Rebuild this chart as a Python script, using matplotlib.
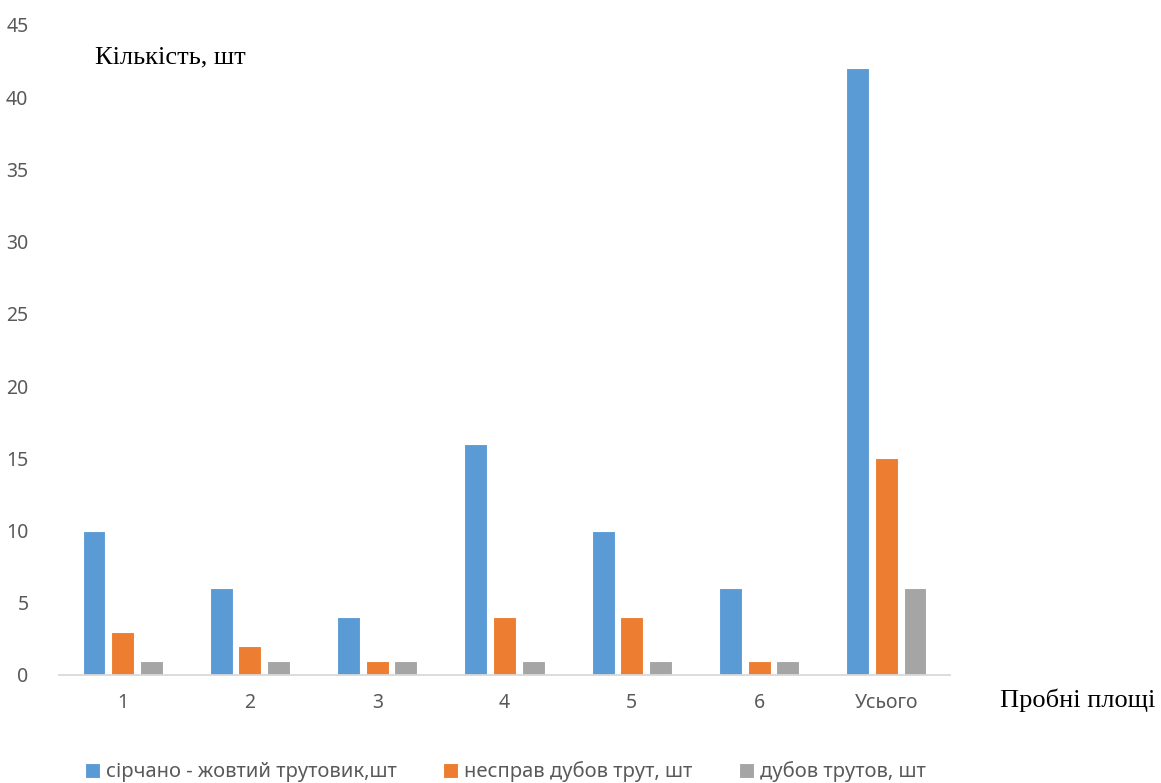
import matplotlib.pyplot as plt
import numpy as np

# data
categories = ['1', '2', '3', '4', '5', '6', 'Усього']
series_names = ['сірчано - жовтий трутовик,шт', 'несправ дубов трут, шт', 'дубов трутов, шт']
sirchano = [10, 6, 4, 16, 10, 6, 42]
nesprav = [3, 2, 1, 4, 4, 1, 15]
dubov = [1, 1, 1, 1, 1, 1, 6]
colors = ['#5B9BD5', '#ED7D31', '#A5A5A5']

fig = plt.figure(figsize=(11.61, 7.83), dpi=100)
ax = fig.add_axes([59 / 1161, 108 / 783, 891 / 1161, 650 / 783])

x = np.arange(len(categories))
width = 0.18
step = 0.225
for i, (vals, name, c) in enumerate(zip([sirchano, nesprav, dubov], series_names, colors)):
    ax.bar(x + (i - 1) * step, vals, width, color=c, label=name,
           edgecolor='white', linewidth=0.8)

ax.set_xlim(-0.5, 6.5)
ax.set_ylim(0, 45)
ax.set_yticks(range(0, 46, 5))
ax.set_xticks(x)
ax.set_xticklabels(categories)

for s in ['top', 'right', 'left']:
    ax.spines[s].set_visible(False)
ax.spines['bottom'].set_color('#D9D9D9')
ax.spines['bottom'].set_linewidth(1.3)
ax.tick_params(axis='both', length=0, labelsize=14, labelcolor='#595959')
ax.tick_params(axis='x', pad=13)
ax.tick_params(axis='y', pad=22)
for lab in ax.get_xticklabels() + ax.get_yticklabels():
    lab.set_family('Noto Sans')

fig.text(95 / 1161, 1 - 57 / 783, 'Кількість, шт', family='Liberation Serif',
         fontsize=19, va='center', ha='left')
fig.text(1155 / 1161, 1 - 700 / 783, 'Пробні площі', family='Liberation Serif',
         fontsize=19, va='center', ha='right')

leg = fig.legend(loc='center', bbox_to_anchor=(505 / 1161, 1 - 772 / 783), ncol=3,
                 frameon=False, prop={'family': 'Noto Sans', 'size': 14.5},
                 handlelength=0.75, handleheight=0.75, handletextpad=0.3,
                 columnspacing=2.3)
for t in leg.get_texts():
    t.set_color('#595959')

plt.savefig('out.png', dpi=100)
